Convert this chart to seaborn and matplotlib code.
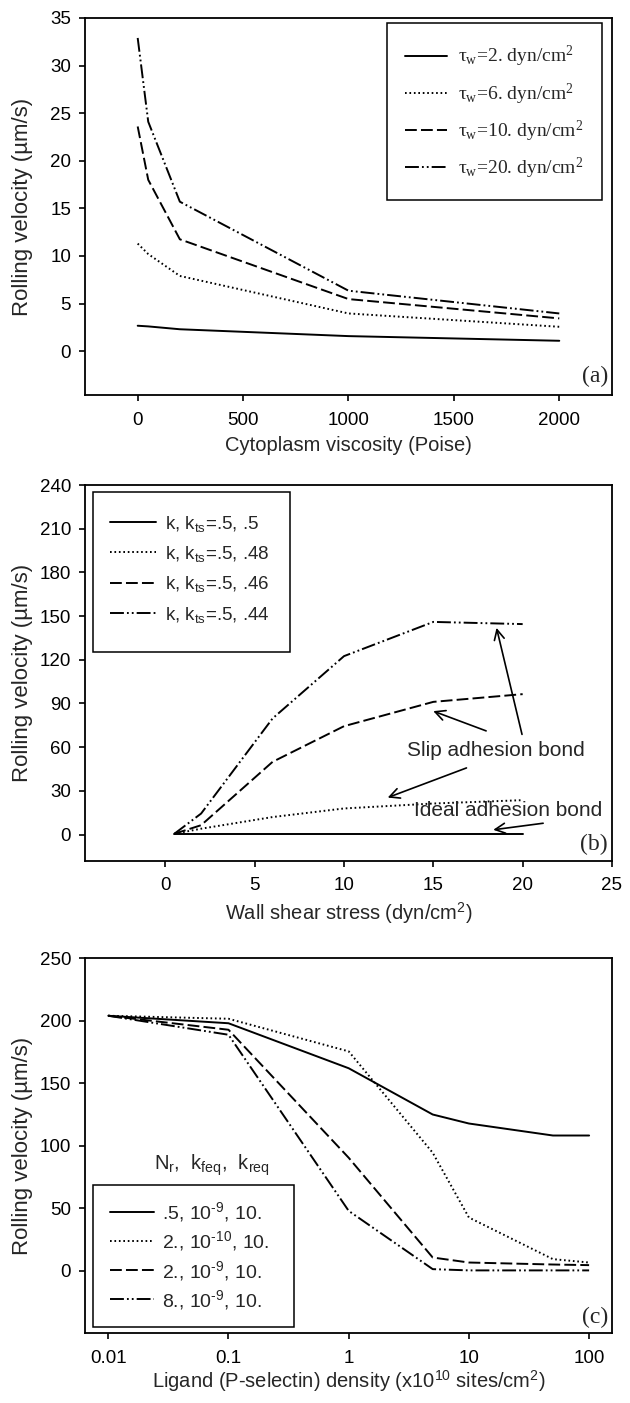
import numpy as np
import pandas as pd
import matplotlib
matplotlib.use("Agg")
import matplotlib.pyplot as plt
from matplotlib.lines import Line2D
from matplotlib.patches import Rectangle
import seaborn as sns

# ---------------- data ----------------
# panel (a): rolling velocity vs cytoplasm viscosity
visc = [0, 50, 200, 1000, 2000]
a_tau2 = [2.67, 2.6, 2.3, 1.58, 1.09]
a_tau6 = [11.3, 10.2, 7.9, 3.96, 2.56]
a_tau10 = [23.6, 18.0, 11.75, 5.47, 3.44]
a_tau20 = [32.9, 24.1, 15.7, 6.35, 3.96]
a_labels = ["τ$_{w}$=2. dyn/cm$^{2}$", "τ$_{w}$=6. dyn/cm$^{2}$",
            "τ$_{w}$=10. dyn/cm$^{2}$", "τ$_{w}$=20. dyn/cm$^{2}$"]

# panel (b): rolling velocity vs wall shear stress
shear = [0.5, 2, 6, 10, 15, 20]
b_k50 = [0.5, 0.5, 0.5, 0.5, 0.5, 0.5]
b_k48 = [0.5, 4.0, 12.0, 17.9, 21.3, 23.6]
b_k46 = [0.5, 6.4, 49.9, 74.4, 91.1, 96.4]
b_k44 = [0.5, 14.4, 79.7, 122.5, 146.0, 144.5]
b_labels = ["k, k$_{ts}$=.5, .5", "k, k$_{ts}$=.5, .48",
            "k, k$_{ts}$=.5, .46", "k, k$_{ts}$=.5, .44"]

# panel (c): rolling velocity vs ligand density
ligand = [0.01, 0.1, 1, 5, 10, 50, 100]
c_s1 = [204, 198, 162, 125, 117.8, 108.2, 108.2]
c_s2 = [204, 201.6, 175.5, 94.4, 42.6, 9.3, 6.6]
c_s3 = [204, 192.8, 90.4, 10.6, 6.6, 5.0, 4.5]
c_s4 = [204, 188.8, 47.9, 1.3, 0.3, 0.3, 0.3]
c_labels = [".5, 10$^{\u20109}$, 10.", "2., 10$^{\u201010}$, 10.",
            "2., 10$^{\u20109}$, 10.", "8., 10$^{\u20109}$, 10."]
c_xticks = [0.01, 0.1, 1, 10, 100]
c_xticklabels = ["0.01", "0.1", "1", "10", "100"]

# ---------------- style ----------------
sns.set_theme(style="ticks")
plt.rcParams["font.family"] = ["Liberation Sans", "DejaVu Sans"]
plt.rcParams["mathtext.default"] = "regular"
plt.rcParams["lines.scale_dashes"] = False
plt.rcParams["axes.edgecolor"] = "black"
plt.rcParams["xtick.color"] = "black"
plt.rcParams["ytick.color"] = "black"
plt.rcParams["xtick.major.size"] = 4
plt.rcParams["ytick.major.size"] = 4
plt.rcParams["xtick.major.width"] = 1.2
plt.rcParams["ytick.major.width"] = 1.2
plt.rcParams["xtick.minor.size"] = 0
plt.rcParams["ytick.minor.size"] = 0

LW = 1.4
styles = ["-", (0, (1.2, 2.0)), (0, (8.5, 3.0)),
          (0, (10, 2.2, 1.3, 2.2, 1.3, 2.2))]

fig = plt.figure(figsize=(6.3, 14.03), dpi=100)
left, width = 0.1349, 0.8365
ax_a = fig.add_axes([left, 0.7185, width, 0.2687])
ax_b = fig.add_axes([left, 0.3865, width, 0.2678])
ax_c = fig.add_axes([left, 0.0497, width, 0.2673])

TICK_FS = 13.5
LAB_FS = 14.5
YLAB_FS = 16
SERIF = ["Liberation Serif", "DejaVu Serif"]
SANS = ["Liberation Sans", "DejaVu Sans"]


def draw(ax, x, ys, labels):
    for y, ls, lab in zip(ys, styles, labels):
        df = pd.DataFrame({"x": x, "y": y})
        sns.lineplot(data=df, x="x", y="y", ax=ax, color="black",
                     linestyle=ls, linewidth=LW, legend=False)


def finish(ax, xlab_y):
    for s in ax.spines.values():
        s.set_visible(True)
        s.set_linewidth(1.3)
    ax.tick_params(axis="x", which="major", labelsize=TICK_FS, pad=8,
                   direction="out", top=False)
    ax.tick_params(axis="y", which="major", labelsize=TICK_FS, pad=6,
                   direction="out", right=False)
    ax.set_ylabel("Rolling velocity (µm/s)", fontsize=YLAB_FS)
    ax.yaxis.set_label_coords(-0.098, 0.5)
    ax.xaxis.set_label_coords(0.5, xlab_y)


def make_legend(ax, labels, fontsize, family, anchor, box, **kw):
    handles = [Line2D([], [], color="black", linestyle=ls, linewidth=LW)
               for ls in styles]
    leg = ax.legend(handles, labels, frameon=False, loc="center left",
                    bbox_to_anchor=anchor, borderpad=0, borderaxespad=0,
                    prop={"family": family, "size": fontsize}, **kw)
    x0, y0, x1, y1 = box
    ax.add_patch(Rectangle((x0, y0), x1 - x0, y1 - y0, transform=ax.transAxes,
                           fill=False, edgecolor="black", linewidth=1.1,
                           zorder=5, clip_on=False))
    return leg


# ---- panel (a)
draw(ax_a, visc, [a_tau2, a_tau6, a_tau10, a_tau20], a_labels)
ax_a.set_xlim(-250, 2250)
ax_a.set_ylim(-4.6, 35)
ax_a.set_xticks([0, 500, 1000, 1500, 2000])
ax_a.set_yticks(np.arange(0, 36, 5))
ax_a.set_xlabel("Cytoplasm viscosity (Poise)", fontsize=LAB_FS, va="top")
finish(ax_a, -0.108)
make_legend(ax_a, a_labels, 14, SERIF, (0.607, 0.749),
            (0.573, 0.517, 0.981, 0.987),
            handlelength=2.15, handletextpad=0.6, labelspacing=0.62)
ax_a.text(0.992, 0.048, "(a)", transform=ax_a.transAxes, ha="right",
          va="center", fontsize=17, family=SERIF)

# ---- panel (b)
draw(ax_b, shear, [b_k50, b_k48, b_k46, b_k44], b_labels)
ax_b.set_xlim(-4.5, 25)
ax_b.set_ylim(-18, 240)
ax_b.set_xticks([0, 5, 10, 15, 20, 25])
ax_b.set_yticks(np.arange(0, 241, 30))
ax_b.set_xlabel("Wall shear stress (dyn/cm$^{2}$)", fontsize=LAB_FS, va="top")
finish(ax_b, -0.104)
make_legend(ax_b, b_labels, 13.5, SANS, (0.047, 0.776),
            (0.0144, 0.5555, 0.3896, 0.981),
            handlelength=2.45, handletextpad=0.5, labelspacing=0.55)
arrow = dict(arrowstyle="->", color="black", lw=1.2, mutation_scale=18)
ax_b.annotate("", xy=(18.5, 143.8), xytext=(20.0, 66.9), arrowprops=arrow)
ax_b.annotate("", xy=(14.85, 85.4), xytext=(18.1, 70.5), arrowprops=arrow)
ax_b.annotate("", xy=(12.3, 24.7), xytext=(17.0, 46.4), arrowprops=arrow)
ax_b.annotate("", xy=(18.2, 3.0), xytext=(21.3, 8.0), arrowprops=arrow)
ax_b.text(18.5, 57.9, "Slip adhesion bond", ha="center", va="center",
          fontsize=15)
ax_b.text(19.2, 16.7, "Ideal adhesion bond", ha="center", va="center",
          fontsize=15)
ax_b.text(0.992, 0.044, "(b)", transform=ax_b.transAxes, ha="right",
          va="center", fontsize=17, family=SERIF)

# ---- panel (c)
draw(ax_c, ligand, [c_s1, c_s2, c_s3, c_s4], c_labels)
ax_c.set_xscale("log")
ax_c.set_xlim(0.0064, 155)
ax_c.set_ylim(-50, 250)
ax_c.set_xticks(c_xticks)
ax_c.set_xticklabels(c_xticklabels)
ax_c.xaxis.set_minor_locator(matplotlib.ticker.NullLocator())
ax_c.set_yticks(np.arange(0, 251, 50))
ax_c.set_xlabel("Ligand (P-selectin) density (x10$^{10}$ sites/cm$^{2}$)",
                fontsize=LAB_FS, va="top")
finish(ax_c, -0.093)
make_legend(ax_c, c_labels, 14, SANS, (0.047, 0.206),
            (0.0144, 0.016, 0.397, 0.3955),
            handlelength=2.27, handletextpad=0.4, labelspacing=0.27)
ax_c.text(0.241, 0.449, "N$_{r}$,  k$_{feq}$,  k$_{req}$",
          transform=ax_c.transAxes, ha="center", va="center", fontsize=14.5)
ax_c.text(0.992, 0.041, "(c)", transform=ax_c.transAxes, ha="right",
          va="center", fontsize=17, family=SERIF)

fig.savefig("out.png", dpi=100)
